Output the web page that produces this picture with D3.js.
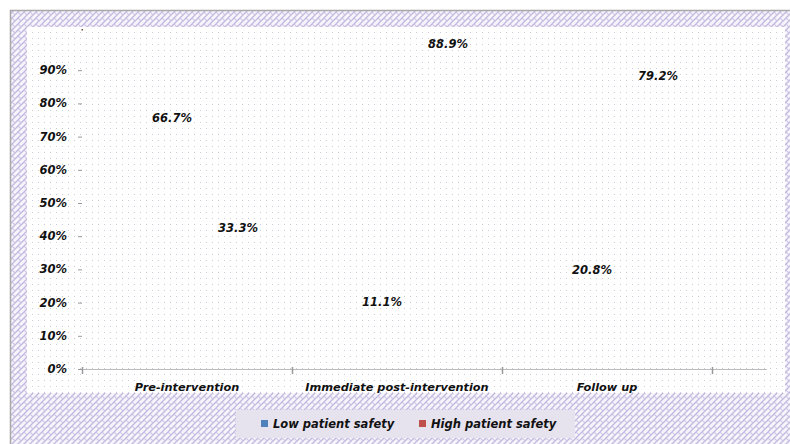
<!DOCTYPE html>
<html>
<head>
<meta charset="utf-8">
<script src="https://cdn.jsdelivr.net/npm/d3@7"></script>
<style>
html,body{margin:0;padding:0;background:#fff;}
svg{display:block;}
text{font-family:"DejaVu Sans",Verdana,sans-serif;font-weight:bold;font-style:italic;fill:#111;}
</style>
</head>
<body>
<svg id="chart" width="790" height="444"></svg>
<script>
const categories = ["Pre-intervention", "Immediate post-intervention", "Follow up"];
const seriesNames = ["Low patient safety", "High patient safety"];
const lowValues = [66.7, 11.1, 20.8];
const highValues = [33.3, 88.9, 79.2];
const yTicks = [0, 10, 20, 30, 40, 50, 60, 70, 80, 90];
const seriesColors = ["#4F81BD", "#C0504D"];

const svg = d3.select("#chart");
const defs = svg.append("defs");

// outer hatch pattern
const hp = defs.append("pattern").attr("id","hatch").attr("patternUnits","userSpaceOnUse")
  .attr("width",6).attr("height",6);
hp.append("rect").attr("width",6).attr("height",6).attr("fill","#f7f5fc");
hp.append("path").attr("d","M0,6 L6,0 M-1,1 L1,-1 M5,7 L7,5").attr("stroke","#c2b8de").attr("stroke-width",1.3);
hp.append("path").attr("d","M0,0 L3,3").attr("stroke","#cfc6e6").attr("stroke-width",1.1);

// inner dot pattern
const dp = defs.append("pattern").attr("id","dots").attr("patternUnits","userSpaceOnUse")
  .attr("width",6).attr("height",6);
dp.append("rect").attr("width",6).attr("height",6).attr("fill","#ffffff");
dp.append("rect").attr("x",2).attr("y",2).attr("width",1).attr("height",1).attr("fill","#cacad8");

// outer frame
svg.append("rect").attr("x",10.5).attr("y",10.5).attr("width",790).attr("height",440)
  .attr("fill","url(#hatch)").attr("stroke","#a8a8a8").attr("stroke-width",1.5);
// inner plot area
svg.append("rect").attr("x",27).attr("y",27).attr("width",758).attr("height",366)
  .attr("fill","url(#dots)");

const plot = {left:82, right:712, top:37, bottom:369};

const x0 = d3.scaleBand().domain(categories).range([plot.left, plot.right]).paddingInner(0).paddingOuter(0);
const x1 = d3.scaleBand().domain(seriesNames).range([57, 189]);
const y = d3.scaleLinear().domain([0,100]).range([plot.bottom, plot.top]);

// y axis tick marks and labels
const yg = svg.append("g");
yg.selectAll("line").data(yTicks).join("line")
  .attr("x1",78).attr("x2",82)
  .attr("y1",d=>y(d)+0.5).attr("y2",d=>y(d)+0.5)
  .attr("stroke","#999").attr("stroke-width",1);
yg.selectAll("text").data(yTicks).join("text")
  .attr("x",67).attr("y",d=>y(d)).attr("dy","0.35em")
  .attr("text-anchor","end").attr("font-size",11.5)
  .text(d=>d+"%");
// stray top tick dot
svg.append("rect").attr("x",81.5).attr("y",y(100)-8).attr("width",1.5).attr("height",1.5).attr("fill","#6b4a3a");

// x axis
svg.append("line").attr("x1",plot.left).attr("x2",767).attr("y1",plot.bottom+0.5).attr("y2",plot.bottom+0.5)
  .attr("stroke","#bbb").attr("stroke-width",1);
const tickXs = categories.map(c=>x0(c)).concat([plot.right]);
svg.selectAll(".xt").data(tickXs).join("line").attr("class","xt")
  .attr("x1",d=>d+0.5).attr("x2",d=>d+0.5)
  .attr("y1",plot.bottom-2).attr("y2",plot.bottom+5)
  .attr("stroke","#999").attr("stroke-width",1.5);
svg.selectAll(".xl").data(categories).join("text").attr("class","xl")
  .attr("x",d=>x0(d)+x0.bandwidth()/2).attr("y",391)
  .attr("text-anchor","middle").attr("font-size",11.3)
  .text(d=>d);

// bars (rendered transparent as in the reference) and labels
const rows = categories.map((c,i)=>({cat:c, vals:[lowValues[i], highValues[i]]}));
const g = svg.selectAll(".grp").data(rows).join("g").attr("class","grp")
  .attr("transform",d=>`translate(${x0(d.cat)},0)`);
g.selectAll("rect").data(d=>d.vals.map((v,j)=>({s:seriesNames[j], v, j}))).join("rect")
  .attr("x",d=>x1(d.s)).attr("width",x1.bandwidth())
  .attr("y",d=>y(d.v)).attr("height",d=>plot.bottom-y(d.v))
  .attr("fill",d=>seriesColors[d.j]).attr("fill-opacity",0);
g.selectAll("text").data(d=>d.vals.map((v,j)=>({s:seriesNames[j], v, j}))).join("text")
  .attr("x",d=>x1(d.s)+x1.bandwidth()/2).attr("y",d=>y(d.v)-30).attr("dy","0.35em")
  .attr("text-anchor","middle").attr("font-size",11.5)
  .text(d=>d.v.toFixed(1)+"%");

// legend
svg.append("rect").attr("x",236).attr("y",410).attr("width",339).attr("height",28).attr("fill","#e6e2ee");
const legX = [261, 419];
const lg = svg.selectAll(".lg").data(seriesNames).join("g").attr("class","lg")
  .attr("transform",(d,i)=>`translate(${legX[i]},420)`);
lg.append("rect").attr("width",7).attr("height",7).attr("fill",(d,i)=>seriesColors[i]);
lg.append("text").attr("x",12).attr("y",4).attr("dy","0.35em").attr("font-size",11.5).text(d=>d);
</script>
</body>
</html>
